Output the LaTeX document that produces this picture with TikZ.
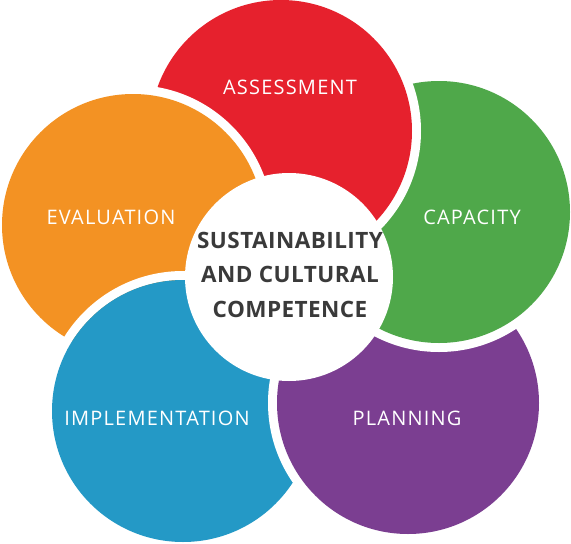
\documentclass[tikz,border=0pt]{standalone}
\usepackage{fontspec}
\setmainfont{Open Sans}
\newfontfamily\petalfont[LetterSpace=6]{Open Sans}
\newfontfamily\hubfont[LetterSpace=2]{Open Sans}

\definecolor{assessred}{HTML}{E6212D}
\definecolor{capgreen}{HTML}{4FA84A}
\definecolor{planpurple}{HTML}{7B3E91}
\definecolor{implblue}{HTML}{2499C6}
\definecolor{evalorange}{HTML}{F39223}
\definecolor{hubgray}{HTML}{3A3A3A}

\tikzset{
	petal/.style={text=white, inner sep=0pt, font=\petalfont\fontsize{20}{22}\selectfont},
	hubtext/.style={text=hubgray, inner sep=0pt, align=center, font=\hubfont\bfseries\fontsize{22.5}{34.5}\selectfont}
}

\begin{document}
\begin{tikzpicture}[x=1pt,y=-1pt]
	\useasboundingbox (0,0) rectangle (571,544);

	% Centres of the petals and of the hub
	\coordinate (assessment) at (281,131);
	\coordinate (capacity) at (439,212);
	\coordinate (planning) at (408,403);
	\coordinate (implementation) at (183,411);
	\coordinate (evaluation) at (133,225);
	\coordinate (hub) at (289,277);

	% Petals, bottom to top, each with a white rim
	\foreach \p/\col in {implementation/implblue, planning/planpurple, capacity/capgreen, assessment/assessred, evaluation/evalorange}{
		\fill[white] (\p) circle (140pt);
		\fill[\col] (\p) circle (131pt);
	}

	% Implementation once more, over evaluation
	\begin{scope}
		\clip (evaluation) circle (141pt);
		\fill[white, even odd rule] (implementation) circle (140pt) circle (131pt);
		\fill[implblue] (implementation) circle (131pt);
	\end{scope}

	% Hub
	\fill[white] (hub) circle (104pt);

	% Labels
	\node[petal] (assesslabel) at (290,87) {ASSESSMENT};
	\node[petal] (caplabel) at (472,217) {CAPACITY};
	\node[petal] (planlabel) at (407,418) {PLANNING};
	\node[petal] (impllabel) at (157,418) {IMPLEMENTATION};
	\node[petal] (evallabel) at (111,217) {EVALUATION};
	\node[hubtext] (hublabel) at (290,274.5) {SUSTAINABILITY\\AND CULTURAL\\COMPETENCE};
\end{tikzpicture}
\end{document}
